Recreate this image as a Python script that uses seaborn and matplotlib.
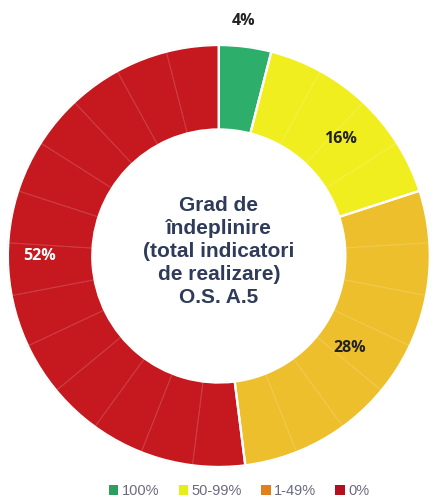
import numpy as np
import seaborn as sns
import matplotlib.pyplot as plt
import matplotlib.colors as mcolors
from matplotlib.patches import Patch

# share of indicators (25 indicators in total)
categories = ["100%", "50-99%", "1-49%", "0%"]
counts = [1, 4, 7, 13]
pct_labels = ["4%", "16%", "28%", "52%"]
center_title = "Grad de\nîndeplinire\n(total indicatori\nde realizare)\nO.S. A.5"

ring_colors = ["#2DAE6B", "#F1EE1F", "#EDBF2D", "#C5181F"]
legend_colors = ["#2E9E5E", "#E3EE1A", "#E0801C", "#B3101E"]
label_colors = ["#222222", "#222222", "#222222", "#FFFFFF"]
# (radius, angle in degrees) for the percent labels
label_pos = [(1.12, 84.0), (0.80, 44.0), (0.76, -35.0), (0.85, 180.0)]

sns.set_theme(style="white")
plt.rcParams['font.family'] = ['Liberation Sans', 'DejaVu Sans']

fig = plt.figure(figsize=(4.39, 5), dpi=100)
ax = fig.add_axes([0.018, 0.066, 0.961, 0.844])

# one wedge per indicator
sizes = []
colors = []
for n, c in zip(counts, ring_colors):
    sizes += [1] * n
    colors += [c] * n

wedges, _ = ax.pie(sizes, colors=colors, startangle=90, counterclock=False,
                   radius=1, wedgeprops=dict(width=0.4, linewidth=0.8))
for w, c in zip(wedges, colors):
    rgb = np.array(mcolors.to_rgb(c))
    w.set_edgecolor(tuple(rgb * 0.85 + 0.15))

# white borders between categories
ax.pie(counts, colors=["none"] * 4, startangle=90, counterclock=False, radius=1,
       wedgeprops=dict(width=0.4, linewidth=1.6, edgecolor="white"))

for (r, a), txt, col in zip(label_pos, pct_labels, label_colors):
    ax.text(r * np.cos(np.radians(a)), r * np.sin(np.radians(a)), txt,
            ha="center", va="center", fontsize=11.5, fontweight="bold", color=col,
            family=["Open Sans", "DejaVu Sans"])

ax.text(0, 0.02, center_title, ha="center", va="center", fontsize=15,
        fontweight="bold", color="#2E3B5A", linespacing=1.27)

ax.set_xlim(-1, 1)
ax.set_ylim(-1, 1)
ax.set_aspect("equal")
ax.axis("off")

handles = [Patch(facecolor=c, edgecolor="none", label=l) for c, l in zip(legend_colors, categories)]
fig.legend(handles=handles, loc="lower center", bbox_to_anchor=(0.545, -0.022), ncol=4,
           frameon=False, fontsize=10.5, handlelength=0.65, handleheight=0.65,
           handletextpad=0.25, columnspacing=1.3, labelcolor="#6B6B80")

fig.savefig("out.png", dpi=100)
